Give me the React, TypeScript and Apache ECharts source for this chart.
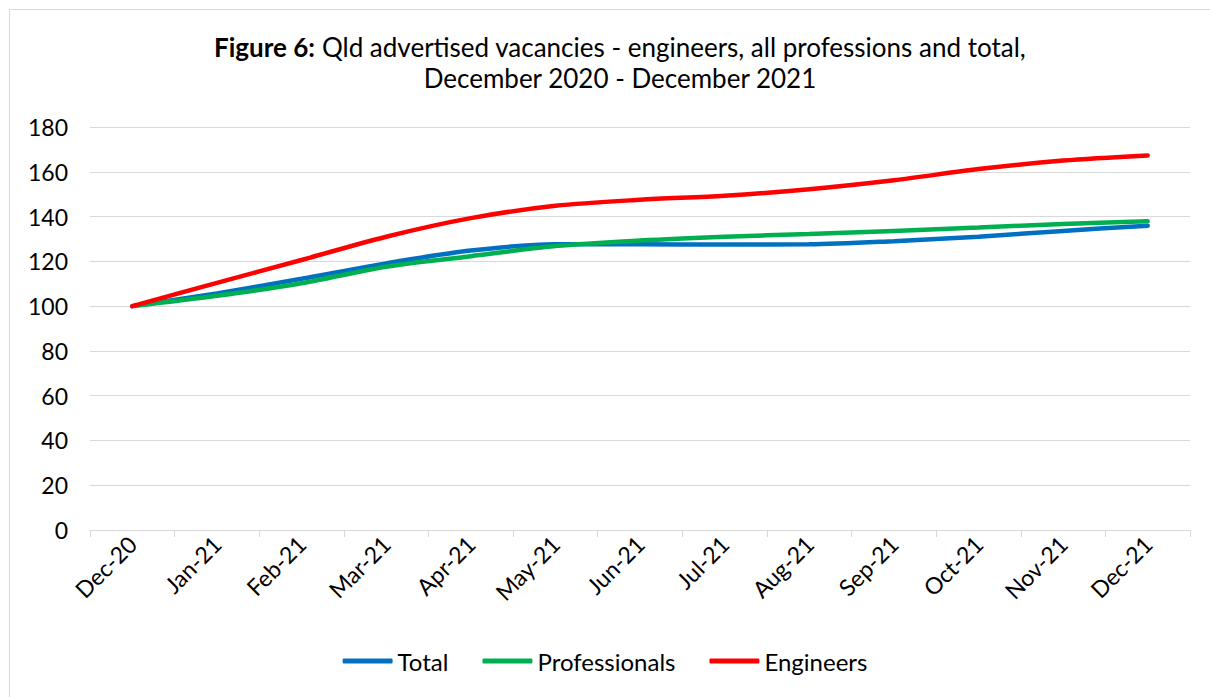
import React, { useEffect, useRef } from "react";
import * as echarts from "echarts";

const categories = ["Dec-20", "Jan-21", "Feb-21", "Mar-21", "Apr-21", "May-21", "Jun-21", "Jul-21", "Aug-21", "Sep-21", "Oct-21", "Nov-21", "Dec-21"];
const totalValues = [100, 105.7, 112.2, 119.1, 124.8, 127.6, 127.6, 127.5, 127.6, 129.0, 131.0, 133.6, 135.9];
const professionalsValues = [100, 104.6, 110.2, 117.6, 122.3, 126.8, 129.3, 131.0, 132.2, 133.6, 135.1, 136.7, 137.9];
const engineersValues = [100, 110.4, 120.6, 131.0, 139.3, 144.8, 147.5, 149.3, 152.2, 156.2, 161.2, 165.0, 167.3];
const yTicks = { min: 0, max: 180, interval: 20 };

const FONT = "Lato, 'Noto Sans', sans-serif";

export default function App() {
  const ref = useRef<HTMLDivElement>(null);
  useEffect(() => {
    if (!ref.current) return;
    const chart = echarts.init(ref.current, null, { renderer: "svg" });
    const mk = (name: string, data: number[], color: string) => ({
      name,
      type: "line",
      data,
      smooth: 0.3,
      showSymbol: false,
      symbol: "none",
      lineStyle: { color, width: 4.5, cap: "round" },
      itemStyle: { color },
    });
    chart.setOption({
      animation: false,
      backgroundColor: "#ffffff",
      textStyle: { fontFamily: FONT },
      graphic: [
        {
          type: "rect",
          shape: { x: 9.5, y: 9.5, width: 1220, height: 720 },
          style: { fill: "none", stroke: "#d9d9d9", lineWidth: 1 },
          silent: true,
        },
      ],
      title: {
        left: 615,
        top: 26,
        textAlign: "center",
        text: "{b|Figure 6:} Qld advertised vacancies - engineers, all professions and total,\nDecember 2020 - December 2021",
        textStyle: {
          fontFamily: FONT,
          fontSize: 26,
          fontWeight: "normal",
          color: "#000000",
          lineHeight: 31,
          align: "center",
          rich: {
            b: { fontFamily: FONT, fontSize: 26, fontWeight: "bold", color: "#000000", lineHeight: 31 },
          },
        },
      },
      legend: {
        bottom: 19,
        left: "center",
        itemWidth: 50,
        itemHeight: 5,
        itemGap: 34,
        icon: "roundRect",
        textStyle: { fontFamily: FONT, fontSize: 24, color: "#000000" },
        data: ["Total", "Professionals", "Engineers"],
      },
      grid: { left: 90, right: 20, top: 127, bottom: 167, containLabel: false },
      xAxis: {
        type: "category",
        data: categories,
        boundaryGap: true,
        axisLine: { lineStyle: { color: "#d9d9d9", width: 1 } },
        axisTick: { show: true, length: 7, lineStyle: { color: "#d9d9d9" } },
        axisLabel: { rotate: 45, fontSize: 23, color: "#000000", fontFamily: FONT, margin: 10, interval: 0 },
        splitLine: { show: false },
      },
      yAxis: {
        type: "value",
        min: yTicks.min,
        max: yTicks.max,
        interval: yTicks.interval,
        axisLine: { show: false },
        axisTick: { show: false },
        axisLabel: { fontSize: 23, color: "#000000", fontFamily: FONT, margin: 22 },
        splitLine: { lineStyle: { color: "#d9d9d9", width: 1 } },
      },
      series: [
        mk("Total", totalValues, "#0070C0"),
        mk("Professionals", professionalsValues, "#00B050"),
        mk("Engineers", engineersValues, "#FF0000"),
      ],
    });
    return () => chart.dispose();
  }, []);
  return (
    <div
      ref={ref}
      style={{ position: "fixed", left: 0, top: 0, width: 1210, height: 697 }}
    />
  );
}
